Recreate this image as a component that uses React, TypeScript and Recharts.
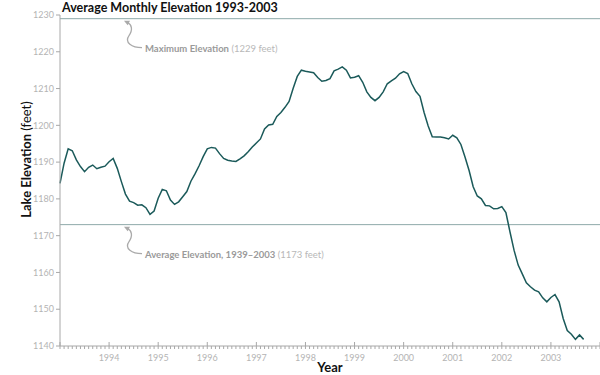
import React from "react";
import { LineChart, Line, XAxis, YAxis, ReferenceLine } from "recharts";

// monthly average lake elevation (feet), Jan..Dec
const elev1993 = [1184.2, 1189.7, 1193.6, 1193.1, 1190.6, 1188.8, 1187.4, 1188.6, 1189.2, 1188.2, 1188.6, 1188.9];
const elev1994 = [1190.1, 1191.0, 1188.3, 1184.7, 1181.3, 1179.4, 1179.0, 1178.3, 1178.4, 1177.6, 1175.8, 1176.7];
const elev1995 = [1180.2, 1182.6, 1182.2, 1179.7, 1178.5, 1179.2, 1180.6, 1182.0, 1184.8, 1186.8, 1189.0, 1191.5];
const elev1996 = [1193.6, 1194.0, 1193.8, 1192.3, 1191.0, 1190.5, 1190.3, 1190.2, 1190.9, 1191.7, 1192.8, 1194.1];
const elev1997 = [1195.2, 1196.3, 1199.0, 1200.1, 1200.3, 1202.4, 1203.5, 1204.9, 1206.5, 1210.1, 1213.3, 1215.0];
const elev1998 = [1214.7, 1214.5, 1214.3, 1213.0, 1212.0, 1212.2, 1212.7, 1214.8, 1215.3, 1215.9, 1215.0, 1212.9];
const elev1999 = [1213.1, 1213.5, 1211.7, 1209.1, 1207.6, 1206.7, 1207.6, 1209.1, 1211.3, 1212.1, 1212.8, 1214.0];
const elev2000 = [1214.6, 1214.1, 1211.3, 1209.2, 1207.9, 1203.5, 1199.8, 1196.9, 1196.8, 1196.8, 1196.6, 1196.3];
const elev2001 = [1197.3, 1196.6, 1194.8, 1191.4, 1187.7, 1183.3, 1180.8, 1180.0, 1178.2, 1178.1, 1177.3, 1177.4];
const elev2002 = [1177.9, 1176.3, 1171.0, 1166.0, 1162.0, 1159.6, 1157.2, 1156.1, 1155.2, 1154.7, 1153.1, 1152.0];
const elev2003 = [1153.2, 1154.0, 1152.0, 1147.5, 1144.2, 1143.2, 1141.8, 1143.0, 1141.8];

const years = [1993, 1994, 1995, 1996, 1997, 1998, 1999, 2000, 2001, 2002, 2003];
const yearSeries = [elev1993, elev1994, elev1995, elev1996, elev1997, elev1998, elev1999, elev2000, elev2001, elev2002, elev2003];
const yearLabels = [1994, 1995, 1996, 1997, 1998, 1999, 2000, 2001, 2002, 2003];
const yTicks = [1140, 1150, 1160, 1170, 1180, 1190, 1200, 1210, 1220, 1230];

const maxElevation = 1229;
const avgElevation = 1173;

const data = years.flatMap((yr, i) =>
  yearSeries[i].map((v, m) => ({ t: yr + m / 12, elevation: v }))
);

// one tick per month from Jan 1993 to Jan 2004
const monthTicks = Array.from({ length: 133 }, (_, i) => 1993 + i / 12);

const FONT = "Lato, 'DejaVu Sans', sans-serif";
const GRAY = "#a8a8a8";

function XTick(props: any) {
  const { x, y, payload } = props;
  const v = payload.value as number;
  const idx = Math.round((v - 1993) * 12);
  const isYear = idx % 12 === 0;
  const yr = 1993 + idx / 12;
  const showLabel = isYear && yearLabels.includes(yr);
  return (
    <g>
      <line x1={x} x2={x} y1={isYear ? y - 4 : y} y2={y + 3} stroke={GRAY} strokeWidth={1} />
      {showLabel && (
        <text x={x} y={y + 15} textAnchor="middle" fontSize={9} fill="#b4b4b4" fontFamily={FONT}>
          {yr}
        </text>
      )}
    </g>
  );
}

function YTitle(props: any) {
  const { viewBox } = props;
  const cx = viewBox.x + 26;
  const cy = viewBox.y + viewBox.height / 2 - 21;
  return (
    <text
      x={cx}
      y={cy}
      transform={`rotate(-90, ${cx}, ${cy})`}
      textAnchor="middle"
      dominantBaseline="central"
      fontSize={13}
      fontFamily={FONT}
      fill="#111"
    >
      <tspan fontWeight="bold">Lake Elevation </tspan>
      <tspan fontWeight="normal">(feet)</tspan>
    </text>
  );
}

function Callout(props: any) {
  const { viewBox, title, note } = props;
  const ax = viewBox.x + 64;
  const ay = viewBox.y + 2;
  return (
    <g>
      <path
        d={`M ${ax + 18} ${ay + 27} C ${ax + 8} ${ay + 27}, ${ax} ${ay + 22}, ${ax + 5} ${ay + 15} C ${ax + 9} ${ay + 9}, ${ax + 8} ${ay + 4}, ${ax + 3} ${ay + 1.5}`}
        fill="none"
        stroke="#aaa"
        strokeWidth={1.3}
      />
      <path d={`M ${ax} ${ay} L ${ax + 6} ${ay} L ${ax + 3.6} ${ay + 4.6} Z`} fill="#aaa" />
      <text x={ax + 21} y={ay + 27} dominantBaseline="central" fontSize={9.5} fontFamily={FONT}>
        <tspan fill="#9a9a9a" fontWeight="bold">{title}</tspan>
        <tspan fill="#b8b8b8">{" " + note}</tspan>
      </text>
    </g>
  );
}

export default function App() {
  return (
    <div style={{ width: 600, height: 375, position: "relative", background: "#fff" }}>
      <style>{`body{margin:0}`}</style>
      <LineChart width={600} height={375} data={data} margin={{ top: 15, right: 0, bottom: 0, left: 0 }}>
        <XAxis
          dataKey="t"
          type="number"
          domain={[1993, 2004]}
          ticks={monthTicks}
          interval={0}
          tickLine={false}
          tickSize={0}
          tickMargin={0}
          tick={<XTick />}
          axisLine={{ stroke: GRAY }}
          height={29}
          label={{ value: "Year", position: "insideBottom", offset: 3, fontSize: 13, fontWeight: "bold", fill: "#111", fontFamily: FONT }}
        />
        <YAxis
          domain={[1140, 1230]}
          ticks={yTicks}
          interval={0}
          width={60}
          tickSize={4}
          tickMargin={2}
          tickLine={{ stroke: GRAY }}
          axisLine={{ stroke: GRAY }}
          tick={{ fontSize: 9, fill: "#b4b4b4", fontFamily: FONT }}
          label={<YTitle />}
        />
        <ReferenceLine
          y={maxElevation}
          stroke="#8eaaaa"
          strokeWidth={1}
          label={<Callout title="Maximum Elevation" note="(1229 feet)" />}
        />
        <ReferenceLine
          y={avgElevation}
          stroke="#8eaaaa"
          strokeWidth={1}
          label={<Callout title="Average Elevation, 1939–2003" note="(1173 feet)" />}
        />
        <Line
          type="linear"
          dataKey="elevation"
          stroke="#1b5a5a"
          strokeWidth={1.5}
          dot={false}
          isAnimationActive={false}
        />
      </LineChart>
      <div
        style={{
          position: "absolute",
          left: 62,
          top: 1,
          fontFamily: FONT,
          fontWeight: "bold",
          fontSize: 12.5,
          lineHeight: "13px",
          color: "#111",
          whiteSpace: "nowrap",
        }}
      >
        Average Monthly Elevation 1993-2003
      </div>
    </div>
  );
}
